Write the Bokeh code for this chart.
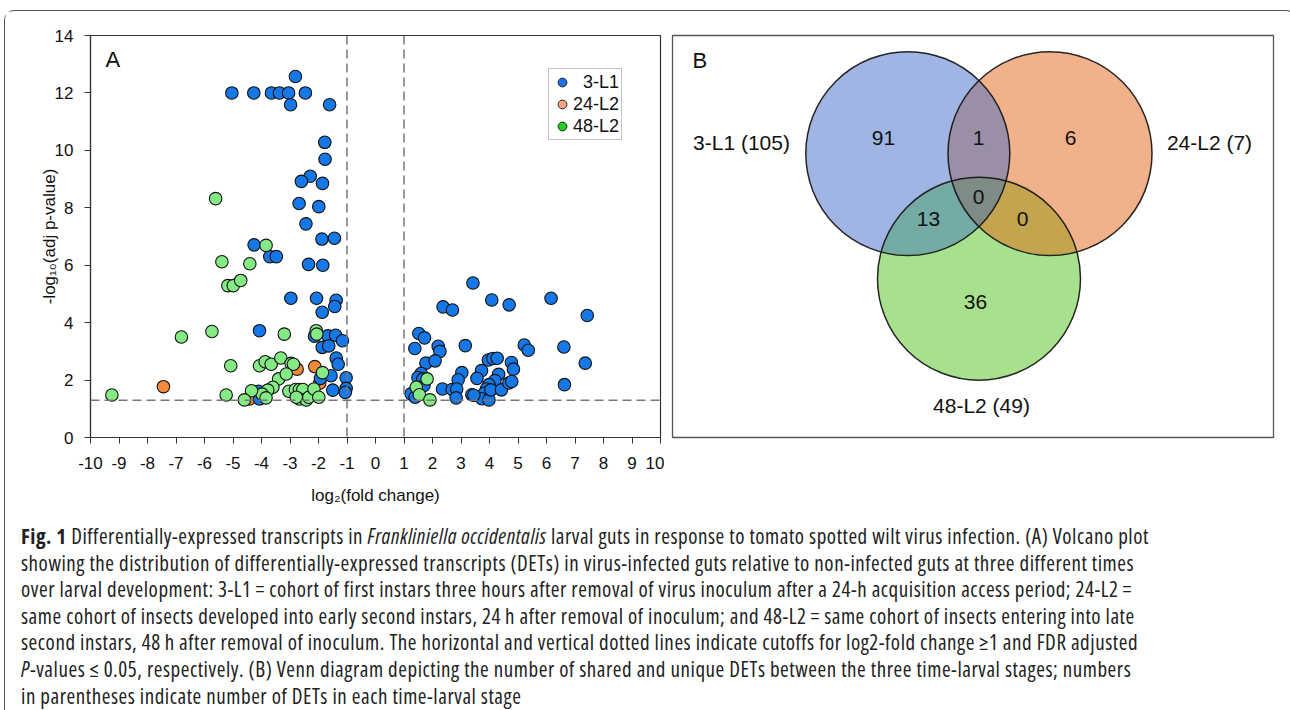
import numpy as np
from bokeh.plotting import figure
from bokeh.models import Range1d, FixedTicker, Span, Label, Legend, LegendItem, Div
from bokeh.layouts import row, column
from bokeh.embed import file_html
from bokeh.resources import INLINE
from bokeh.core.properties import value

FONT = "Liberation Sans"

# ---------------- data: volcano plot ----------------
L1_x = [-2.81, -5.04, -4.27, -3.65, -3.37, -3.05, -2.46, -2.98, -1.61, -1.78, -1.77, -2.29, -2.60, -1.86,
        -2.68, -1.99, -2.44, -1.88, -1.44, -4.26, -3.71, -3.48, -2.35, -1.85, -2.97, -2.07, -1.38, -1.43,
        -1.87, -4.07, -2.14, -1.67, -1.40, -1.16, -1.87, -1.64, -1.38, -1.31, -1.93, -1.56, -1.03, -1.50,
        -1.03, -1.06, -4.10, -4.07,
        3.42, 4.08, 4.69, 6.16, 7.43, 2.37, 2.70, 1.52, 1.72, 1.38, 2.20, 2.26, 3.15, 5.22, 5.36, 6.61,
        7.36, 6.63, 1.77, 2.09, 3.03, 2.90, 3.72, 3.56, 3.96, 4.12, 4.27, 4.77, 4.84, 4.32, 4.19, 3.98,
        3.89, 3.82, 3.73, 3.98, 4.05, 4.42, 4.68, 4.78, 3.38, 3.45, 2.35, 2.69, 2.85, 2.83, 1.60, 1.49,
        1.66, 1.70, 1.25, 1.39]
L1_y = [12.57, 12.0, 12.0, 12.0, 12.0, 12.0, 12.0, 11.59, 11.59, 10.28, 9.69, 9.10, 8.92, 8.85,
        8.15, 8.04, 7.44, 6.91, 6.94, 6.71, 6.30, 6.30, 6.03, 6.00, 4.85, 4.85, 4.78, 4.56,
        4.36, 3.72, 3.53, 3.54, 3.56, 3.37, 3.14, 3.19, 2.77, 2.55, 2.06, 2.15, 2.08, 1.65,
        1.71, 1.57, 1.61, 1.34,
        5.38, 4.79, 4.62, 4.85, 4.25, 4.55, 4.44, 3.62, 3.47, 3.10, 3.18, 3.00, 3.20, 3.22, 3.04, 3.15,
        2.59, 1.84, 2.59, 2.67, 2.26, 2.01, 2.33, 2.06, 2.70, 2.75, 2.76, 2.61, 2.38, 2.20, 1.98, 1.84,
        1.69, 1.54, 1.35, 1.31, 1.66, 1.66, 1.90, 1.95, 1.49, 1.47, 1.69, 1.67, 1.69, 1.38, 2.23, 2.09,
        2.04, 1.81, 1.52, 1.40]

L2_24_x = [-7.44, -2.75, -2.13, -1.96, -4.42]
L2_24_y = [1.77, 2.38, 2.47, 1.89, 1.34]

L2_48_x = [-5.61, -3.84, -5.39, -4.41, -5.18, -4.99, -4.73, -6.81, -5.74, -3.20, -2.08, -2.06, -5.08,
           -4.07, -3.87, -3.66, -3.32, -2.96, -2.88, -1.86, -9.25, -5.24, -3.40, -3.13, -3.60, -3.78,
           -3.98, -4.35, -4.60, -3.84, -3.04, -2.81, -2.67, -2.55, -2.67, -2.43, -2.34, -2.16, -1.99,
           -2.78, 1.43, 1.81, 1.54, 1.91]
L2_48_y = [8.32, 6.69, 6.12, 6.05, 5.29, 5.29, 5.47, 3.50, 3.69, 3.60, 3.72, 3.60, 2.50,
           2.50, 2.64, 2.55, 2.77, 2.58, 2.55, 2.26, 1.48, 1.48, 2.04, 2.21, 1.75, 1.65,
           1.51, 1.63, 1.31, 1.38, 1.61, 1.67, 1.67, 1.67, 1.34, 1.31, 1.40, 1.69, 1.40,
           1.40, 1.75, 2.04, 1.49, 1.31]

SERIES = ["3-L1", "24-L2", "48-L2"]
X_TICKS = list(range(-10, 11))
Y_TICKS = list(range(0, 15, 2))
FC_CUT = [-1, 1]
P_CUT = 1.301

# ---------------- data: Venn ----------------
SET_LABELS = ["3-L1 (105)", "24-L2 (7)", "48-L2 (49)"]
REGION_COUNTS = ["91", "1", "6", "0", "13", "0", "36"]

CAPTION_LINES = [
    "<b>Fig. 1</b> Differentially-expressed transcripts in <i>Frankliniella occidentalis</i> larval guts in response to tomato spotted wilt virus infection. (A) Volcano plot",
    "showing the distribution of differentially-expressed transcripts (DETs) in virus-infected guts relative to non-infected guts at three different times",
    "over larval development: 3-L1&#8201;=&#8201;cohort of first instars three hours after removal of virus inoculum after a 24-h acquisition access period; 24-L2&#8201;=",
    "same cohort of insects developed into early second instars, 24&#8201;h after removal of inoculum; and 48-L2&#8201;=&#8201;same cohort of insects entering into late",
    "second instars, 48&#8201;h after removal of inoculum. The horizontal and vertical dotted lines indicate cutoffs for log2-fold change &#8805;1 and FDR adjusted",
    "<i>P</i>-values &#8804; 0.05, respectively. (B) Venn diagram depicting the number of shared and unique DETs between the three time-larval stages; numbers",
    "in parentheses indicate number of DETs in each time-larval stage",
]

# ---------------- Panel A ----------------
pA = figure(width=659, height=498, x_range=Range1d(-10, 10), y_range=Range1d(0, 14),
            output_backend="svg", toolbar_location=None,
            min_border_left=85, min_border_right=4, min_border_top=23, min_border_bottom=72)
pA.xgrid.visible = False
pA.ygrid.visible = False
pA.outline_line_color = "#333333"
pA.outline_line_width = 1.2
pA.background_fill_color = "white"
pA.border_fill_color = "white"

for ax in (pA.xaxis[0], pA.yaxis[0]):
    ax.axis_line_color = "#333333"
    ax.axis_line_width = 1.2
    ax.major_tick_line_color = "#333333"
    ax.major_tick_out = 6
    ax.major_tick_in = 0
    ax.minor_tick_line_color = None
    ax.major_label_text_font = FONT
    ax.major_label_text_font_size = "17px"
    ax.major_label_text_color = "#111111"
    ax.axis_label_text_font = FONT
    ax.axis_label_text_font_size = "17px"
    ax.axis_label_text_font_style = "normal"
    ax.axis_label_text_color = "#111111"

pA.xaxis.ticker = FixedTicker(ticks=X_TICKS)
pA.yaxis.ticker = FixedTicker(ticks=Y_TICKS)
pA.xaxis.major_label_overrides = {t: str(t) for t in X_TICKS}
pA.yaxis.major_label_overrides = {t: str(t) for t in Y_TICKS}
pA.xaxis.major_label_standoff = 13
pA.yaxis.major_label_standoff = 11
pA.xaxis.axis_label = "log\u2082(fold change)"
pA.yaxis.axis_label = "-log\u2081\u2080(adj p-value)"
pA.xaxis.axis_label_standoff = 14
pA.yaxis.axis_label_standoff = -7

for xv in FC_CUT:
    pA.add_layout(Span(location=xv, dimension="height", line_color="#777777",
                       line_width=1.5, line_dash="9 5"))
pA.add_layout(Span(location=P_CUT, dimension="width", line_color="#777777",
                   line_width=1.5, line_dash="9 5"))

pA.scatter(L2_24_x, L2_24_y, size=12.5, fill_color="#f58a3a", line_color="#111111", line_width=1.1)
pA.scatter(L1_x, L1_y, size=12.5, fill_color="#1677e6", line_color="#111111", line_width=1.1)
pA.scatter(L2_48_x, L2_48_y, size=12.5, fill_color="#84ea84", line_color="#111111", line_width=1.1)

# legend swatches (NaN-positioned renderers carrying the legend colours)
leg_cols = ["#1a73e8", "#f6a584", "#1ed21e"]
leg_r = [pA.scatter([np.nan], [np.nan], size=10, fill_color=c, line_color="#222222", line_width=1)
         for c in leg_cols]
leg_labels = ["\u2007" + SERIES[0], SERIES[1], SERIES[2]]
legend = Legend(items=[LegendItem(label=l, renderers=[r]) for l, r in zip(leg_labels, leg_r)],
                location=(458, 297), orientation="vertical",
                border_line_color="#888888", border_line_width=1,
                background_fill_color="white", background_fill_alpha=1,
                padding=2, spacing=0, margin=0,
                glyph_width=22, glyph_height=22, label_height=22, label_standoff=0,
                label_text_font=FONT, label_text_font_size="18px", label_text_color="#111111")
pA.add_layout(legend)

pA.add_layout(Label(x=15, y=403 - 12, x_units="screen", y_units="screen", text="A",
                    text_font=FONT, text_font_size="22px", text_baseline="top", text_color="#111111"))

# ---------------- Panel B ----------------
FW, FH = 601, 405
pB = figure(width=621, height=498, x_range=Range1d(0, FW), y_range=Range1d(FH, 0),
            x_axis_type=None, y_axis_type=None,
            output_backend="svg", toolbar_location=None,
            min_border_left=8, min_border_right=12, min_border_top=24, min_border_bottom=69)
pB.outline_line_color = "#555555"
pB.outline_line_width = 1.3
pB.background_fill_color = "white"
pB.border_fill_color = "white"

CIRCLES = [(235.3, 119.0, 102.0), (377.5, 119.0, 102.0), (306.5, 245.0, 101.5)]
SINGLE_COLS = ["#a0b5e3", "#f1b18a", "#a8e18d"]
PAIRS = [(0, 1), (0, 2), (1, 2)]
PAIR_COLS = ["#9a8fa7", "#74aba4", "#c4a44f"]
TRIPLE_COL = "#7f8b86"


def inter_poly(idx, n=2400):
    pts = []
    for i in idx:
        cx, cy, r = CIRCLES[i]
        t = np.linspace(0, 2 * np.pi, n, endpoint=False)
        px = cx + r * np.cos(t)
        py = cy + r * np.sin(t)
        m = np.ones(n, dtype=bool)
        for j in idx:
            if j == i:
                continue
            qx, qy, rr = CIRCLES[j]
            m &= (px - qx) ** 2 + (py - qy) ** 2 <= rr ** 2 + 1e-6
        pts.append(np.column_stack([px[m], py[m]]))
    pts = np.vstack(pts)
    c = pts.mean(axis=0)
    order = np.argsort(np.arctan2(pts[:, 1] - c[1], pts[:, 0] - c[0]))
    pts = pts[order]
    return list(pts[:, 0]), list(pts[:, 1])


pB.circle(x=[c[0] for c in CIRCLES], y=[c[1] for c in CIRCLES], radius=[c[2] for c in CIRCLES],
          fill_color=SINGLE_COLS, fill_alpha=1, line_color=None)
pxs, pys = [], []
for pr in PAIRS:
    a, b = inter_poly(pr)
    pxs.append(a)
    pys.append(b)
pB.patches(pxs, pys, fill_color=PAIR_COLS, line_color=None)
tx, ty = inter_poly((0, 1, 2))
pB.patch(tx, ty, fill_color=TRIPLE_COL, line_color=None)
pB.circle(x=[c[0] for c in CIRCLES], y=[c[1] for c in CIRCLES], radius=[c[2] for c in CIRCLES],
          fill_color=None, line_color="#111111", line_width=1.5, line_alpha=0.9)

COUNT_POS_X = [211, 306, 398, 306, 256, 350, 303]
COUNT_POS_Y = [103, 103, 103, 163, 185, 185, 268]
pB.text(x=COUNT_POS_X, y=COUNT_POS_Y, text=REGION_COUNTS, text_align="center", text_baseline="middle",
        text_font=value(FONT), text_font_size="21px", text_color="#111111")
SETLAB_X = [69, 537, 309]
SETLAB_Y = [108, 108, 373]
pB.text(x=SETLAB_X, y=SETLAB_Y, text=SET_LABELS, text_align="center", text_baseline="middle",
        text_font=value(FONT), text_font_size="21px", text_color="#111111")
pB.add_layout(Label(x=20, y=FH - 15, x_units="screen", y_units="screen", text="B",
                    text_font=FONT, text_font_size="22px", text_baseline="top", text_color="#111111"))

# ---------------- caption ----------------
cap_html = ('<div style="font-family:\'Open Sans\',sans-serif;'
            'font-stretch:condensed;font-size:21px;letter-spacing:0.55px;line-height:26.6px;color:#222;'
            'padding:9px 0 0 11px;white-space:nowrap;">' + "<br>".join(CAPTION_LINES) + '</div>')
cap = Div(text=cap_html, width=1280, height=200, styles={"overflow": "hidden"})

layout = column(row(pA, pB), cap,
                styles={"margin-left": "4px", "margin-top": "10px",
                        "border-left": "1.5px solid #555", "border-top": "1.5px solid #555",
                        "border-right": "1.5px solid #555", "border-radius": "10px 10px 0 0"})

open("out.html", "w").write(file_html(layout, INLINE))
